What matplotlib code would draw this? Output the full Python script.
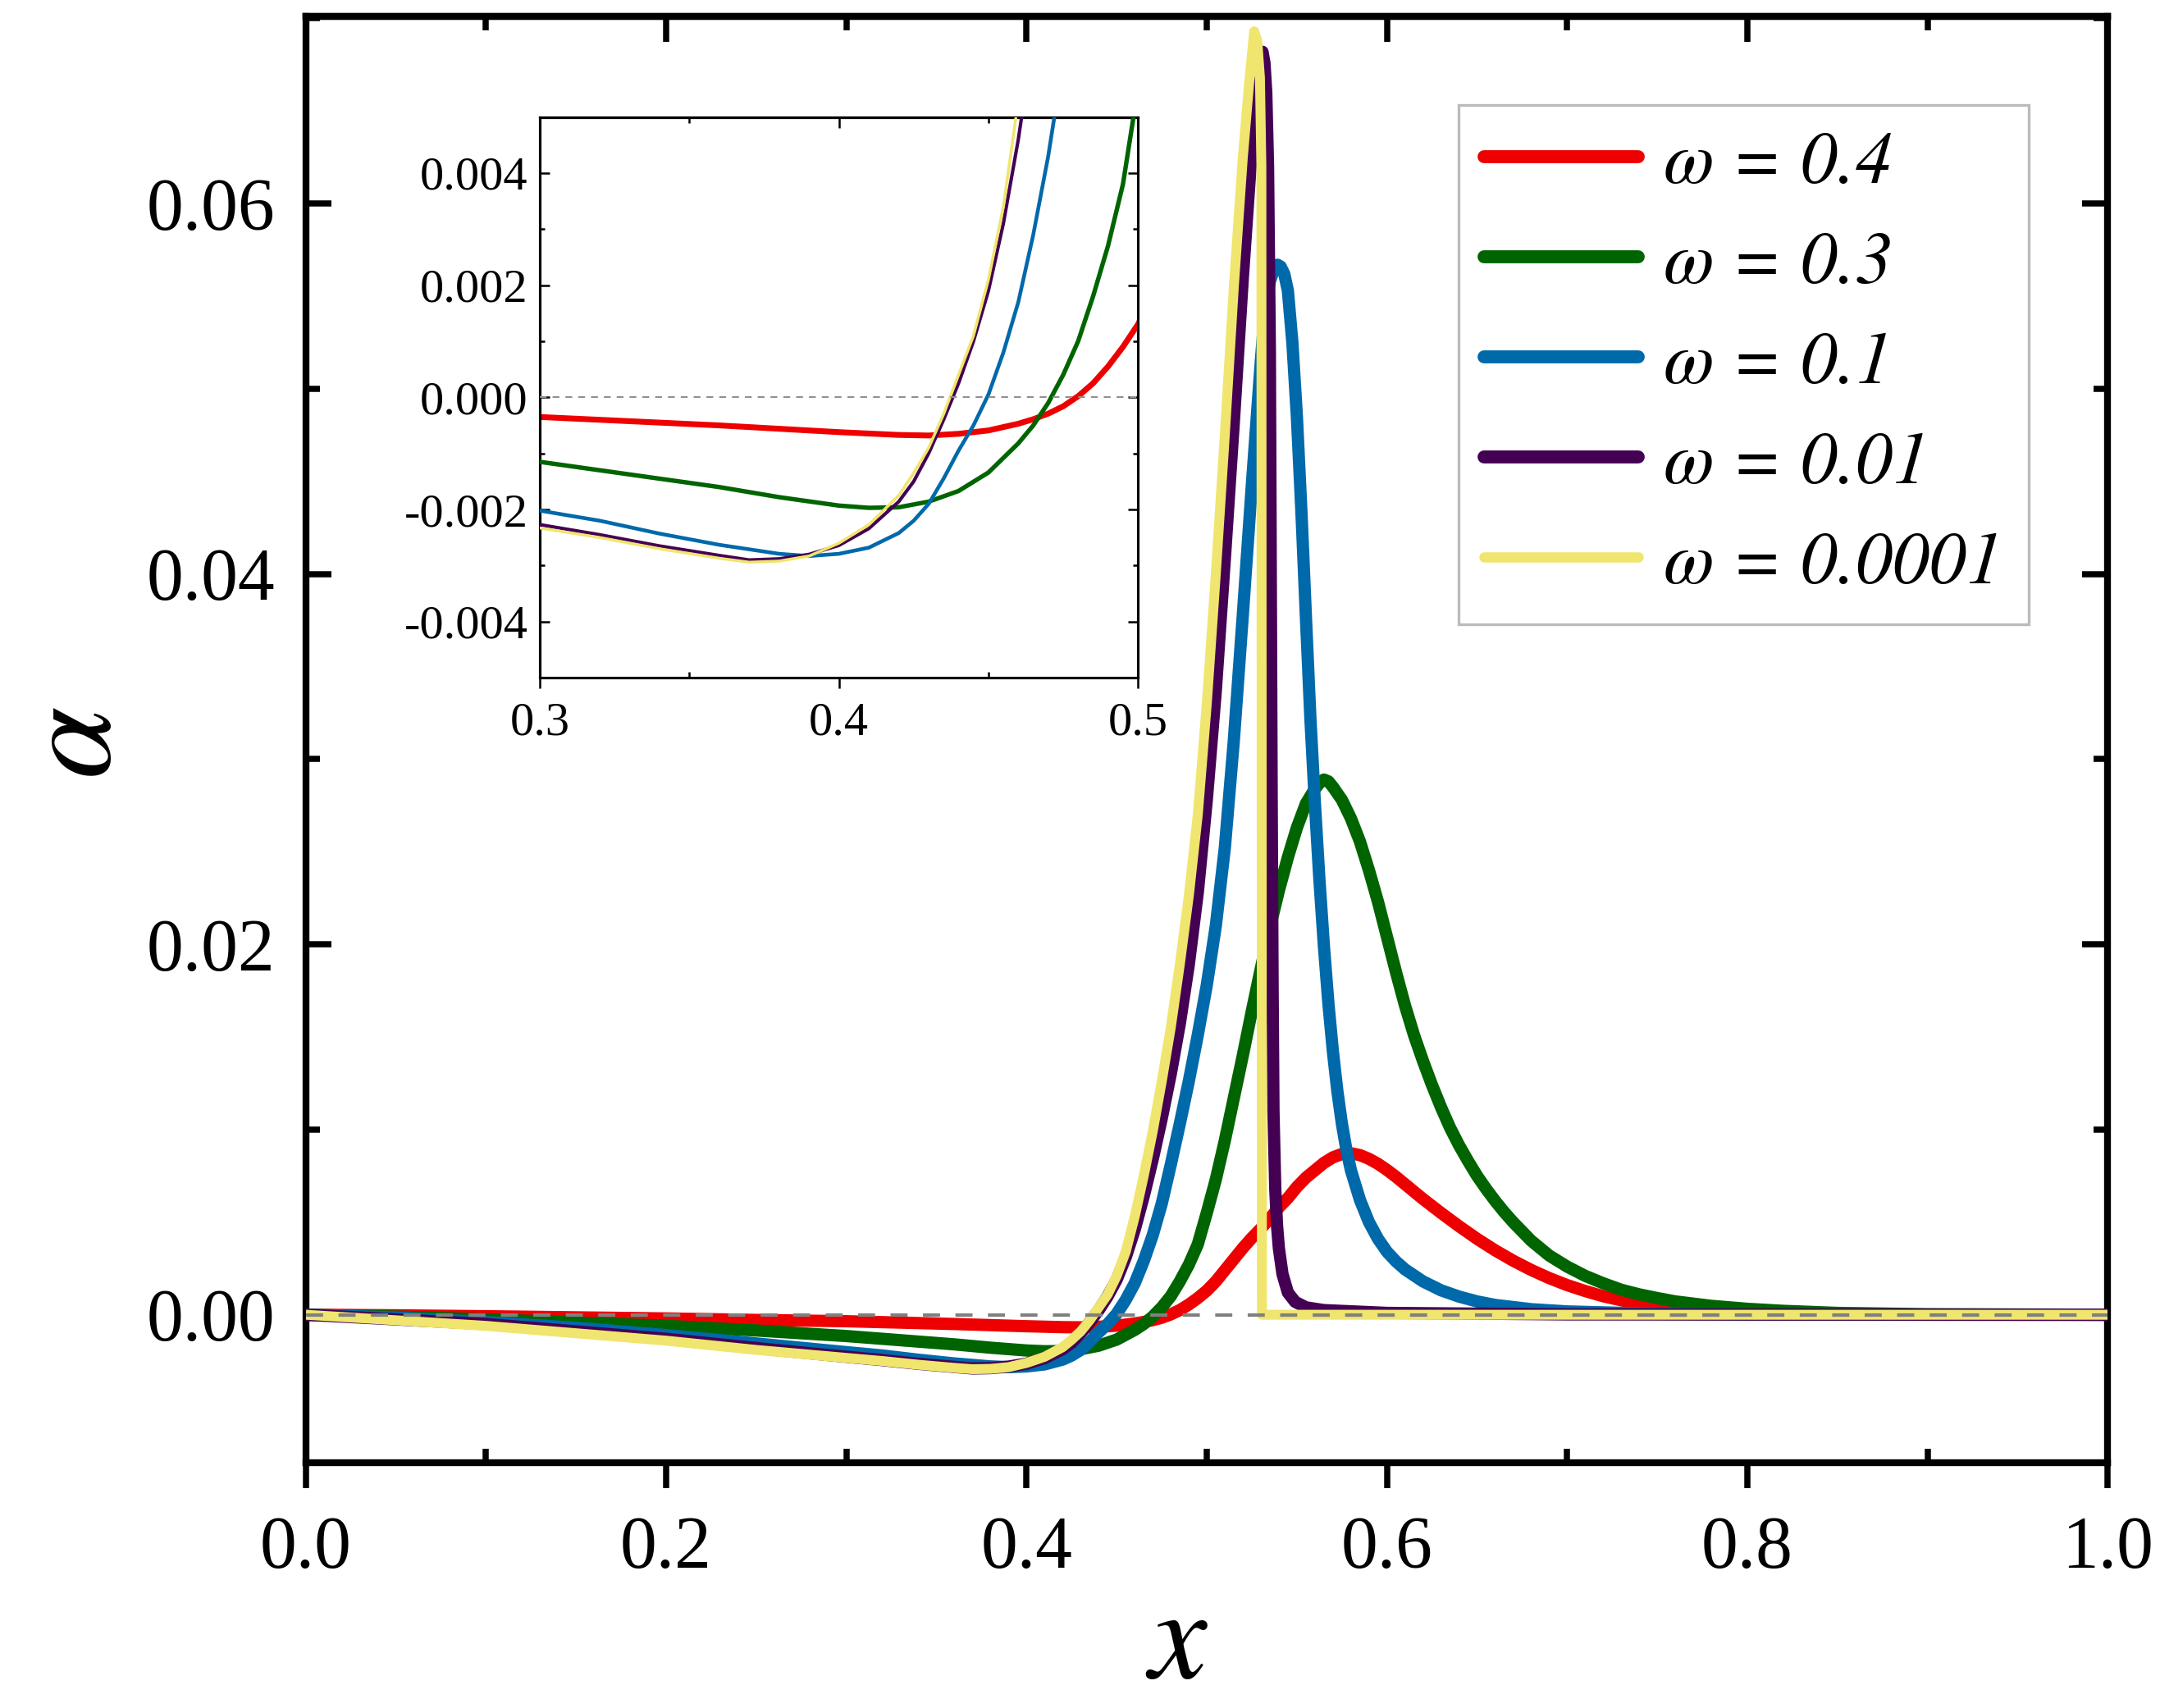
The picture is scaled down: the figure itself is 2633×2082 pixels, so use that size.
import matplotlib
matplotlib.use("Agg")
import matplotlib.pyplot as plt
from matplotlib.ticker import MultipleLocator, FixedLocator, FormatStrFormatter
from matplotlib.lines import Line2D

plt.rcParams['font.family'] = ['Liberation Serif', 'DejaVu Serif']
plt.rcParams['axes.unicode_minus'] = False

# ---------------- data ----------------
labels = ['ω = 0.4', 'ω = 0.3', 'ω = 0.1', 'ω = 0.01', 'ω = 0.0001']
colors = ['#EE0000', '#006400', '#0069AA', '#440154', '#F0E56E']

x_red = [0.00, 0.05, 0.10, 0.15, 0.20, 0.25, 0.30, 0.32, 0.34, 0.36, 0.38, 0.40, 0.42, 0.43,
         0.44, 0.45, 0.46, 0.465, 0.47, 0.475, 0.48, 0.485, 0.49, 0.495, 0.50, 0.505, 0.51,
         0.515, 0.52, 0.525, 0.53, 0.535, 0.54, 0.545, 0.55, 0.555, 0.56, 0.565, 0.57, 0.575,
         0.58, 0.585, 0.59, 0.595, 0.60, 0.605, 0.61, 0.615, 0.62, 0.63, 0.64, 0.65, 0.66, 0.67,
         0.68, 0.69, 0.70, 0.71, 0.72, 0.73, 0.74, 0.76, 0.78, 0.80, 0.85, 0.90, 1.00]
y_red = [0.0, -0.00003, -0.00008, -0.00014, -0.00020, -0.00028, -0.00035, -0.00040, -0.00045,
         -0.00050, -0.00056, -0.00062, -0.00067, -0.00068, -0.00065, -0.00059, -0.00047, -0.00039,
         -0.00029, -0.00016, 0.00002, 0.00025, 0.00055, 0.00090, 0.00130, 0.00180, 0.00240,
         0.00300, 0.00360, 0.00415, 0.00465, 0.00520, 0.00580, 0.00630, 0.00690, 0.00740, 0.00780,
         0.00820, 0.00850, 0.00868, 0.00872, 0.00862, 0.00842, 0.00815, 0.00782, 0.00745, 0.00705,
         0.00665, 0.00625, 0.00550, 0.00478, 0.00410, 0.00348, 0.00292, 0.00242, 0.00198, 0.00160,
         0.00128, 0.00100, 0.00078, 0.00060, 0.00036, 0.00021, 0.00011, 0.00003, 0.0, 0.0]

x_green = [0.00, 0.05, 0.10, 0.15, 0.20, 0.25, 0.30, 0.32, 0.34, 0.36, 0.38, 0.40, 0.41, 0.42,
           0.43, 0.44, 0.45, 0.46, 0.465, 0.47, 0.475, 0.48, 0.485, 0.49, 0.495, 0.50, 0.505,
           0.51, 0.515, 0.52, 0.525, 0.53, 0.535, 0.54, 0.545, 0.55, 0.555, 0.56, 0.5625, 0.565,
           0.5675, 0.57, 0.575, 0.58, 0.585, 0.59, 0.595, 0.60, 0.605, 0.61, 0.615, 0.62, 0.625,
           0.63, 0.635, 0.64, 0.645, 0.65, 0.655, 0.66, 0.665, 0.67, 0.675, 0.68, 0.69, 0.70,
           0.71, 0.72, 0.73, 0.74, 0.75, 0.76, 0.78, 0.80, 0.82, 0.85, 0.90, 1.00]
y_green = [0.0, -0.00010, -0.00025, -0.00042, -0.00060, -0.00085, -0.00115, -0.00130, -0.00145,
           -0.00160, -0.00178, -0.00193, -0.00197, -0.00196, -0.00186, -0.00167, -0.00134, -0.00082,
           -0.00050, -0.00010, 0.00040, 0.00100, 0.00180, 0.00270, 0.00380, 0.00550, 0.00730,
           0.00940, 0.01170, 0.01400, 0.01640, 0.01870, 0.02090, 0.02290, 0.02470, 0.02630, 0.02760,
           0.02840, 0.02870, 0.02890, 0.02880, 0.02850, 0.02780, 0.02680, 0.02555, 0.02400, 0.02230,
           0.02040, 0.01850, 0.01670, 0.01510, 0.01370, 0.01240, 0.01120, 0.01010, 0.00915, 0.00830,
           0.00750, 0.00680, 0.00615, 0.00555, 0.00500, 0.00450, 0.00400, 0.00320, 0.00260, 0.00210,
           0.00170, 0.00135, 0.00110, 0.00090, 0.00072, 0.00048, 0.00032, 0.00021, 0.00010, 0.00003,
           0.0]

x_blue = [0.00, 0.05, 0.10, 0.15, 0.20, 0.25, 0.30, 0.32, 0.34, 0.36, 0.38, 0.39, 0.40, 0.41,
          0.42, 0.425, 0.43, 0.435, 0.44, 0.445, 0.45, 0.455, 0.46, 0.465, 0.47, 0.475, 0.48,
          0.485, 0.49, 0.495, 0.50, 0.505, 0.51, 0.515, 0.52, 0.525, 0.53, 0.5325, 0.535, 0.5375,
          0.5392, 0.541, 0.543, 0.545, 0.5475, 0.55, 0.5525, 0.555, 0.5575, 0.56, 0.5625, 0.565,
          0.5675, 0.57, 0.5725, 0.575, 0.5775, 0.58, 0.585, 0.59, 0.595, 0.60, 0.605, 0.61, 0.62,
          0.63, 0.64, 0.65, 0.66, 0.68, 0.70, 0.75, 0.80, 1.00]
y_blue = [0.0, -0.00015, -0.00040, -0.00070, -0.00110, -0.00155, -0.00202, -0.00220, -0.00243,
          -0.00263, -0.00279, -0.00283, -0.00279, -0.00268, -0.00242, -0.00220, -0.00190, -0.00145,
          -0.00095, -0.00050, 0.00005, 0.00080, 0.00170, 0.00290, 0.00430, 0.00600, 0.00810,
          0.01030, 0.01260, 0.01510, 0.01780, 0.02100, 0.02520, 0.03100, 0.03780, 0.04480, 0.05150,
          0.05450, 0.05580, 0.05650, 0.05670, 0.05660, 0.05620, 0.05530, 0.05250, 0.04850, 0.04340,
          0.03770, 0.03220, 0.02760, 0.02350, 0.01990, 0.01680, 0.01420, 0.01205, 0.01030, 0.00890,
          0.00780, 0.00620, 0.00500, 0.00410, 0.00340, 0.00288, 0.00245, 0.00180, 0.00132, 0.00098,
          0.00072, 0.00053, 0.00030, 0.00018, 0.00005, 0.00001, 0.0]

x_purple = [0.00, 0.05, 0.10, 0.15, 0.20, 0.25, 0.30, 0.32, 0.34, 0.36, 0.37, 0.38, 0.39, 0.40,
            0.41, 0.42, 0.425, 0.43, 0.435, 0.44, 0.445, 0.45, 0.455, 0.46, 0.465, 0.47, 0.475,
            0.48, 0.485, 0.49, 0.495, 0.50, 0.505, 0.51, 0.515, 0.52, 0.525, 0.528, 0.5309,
            0.532, 0.533, 0.534, 0.535, 0.5355, 0.536, 0.5365, 0.537, 0.538, 0.539, 0.540, 0.542,
            0.545, 0.549, 0.555, 0.565, 0.60, 0.70, 1.00]
y_purple = [0.0, -0.00025, -0.00050, -0.00090, -0.00130, -0.00180, -0.00227, -0.00245, -0.00265,
            -0.00282, -0.00290, -0.00288, -0.00280, -0.00264, -0.00234, -0.00186, -0.00150, -0.00100,
            -0.00040, 0.00025, 0.00100, 0.00190, 0.00310, 0.00460, 0.00640, 0.00840, 0.01060,
            0.01300, 0.01570, 0.01890, 0.02280, 0.02780, 0.03370, 0.04080, 0.04820, 0.05600, 0.06300,
            0.06640, 0.06820, 0.06760, 0.06600, 0.06200, 0.05200, 0.04000, 0.02800, 0.01800, 0.01100,
            0.00680, 0.00480, 0.00360, 0.00220, 0.00120, 0.00070, 0.00040, 0.00025, 0.00010, 0.00002,
            0.0]

x_yellow = [0.00, 0.05, 0.10, 0.15, 0.20, 0.25, 0.30, 0.32, 0.34, 0.36, 0.37, 0.38, 0.39, 0.40,
            0.41, 0.42, 0.425, 0.43, 0.435, 0.44, 0.445, 0.45, 0.455, 0.46, 0.465, 0.47, 0.475,
            0.48, 0.485, 0.49, 0.495, 0.50, 0.505, 0.51, 0.515, 0.52, 0.5235, 0.5263, 0.528,
            0.5295, 0.5303, 0.5306, 0.535, 0.60, 0.80, 1.00]
y_yellow = [0.0, -0.00030, -0.00060, -0.00100, -0.00140, -0.00190, -0.00233, -0.00250, -0.00270,
            -0.00287, -0.00294, -0.00292, -0.00283, -0.00260, -0.00227, -0.00175, -0.00135, -0.00090,
            -0.00030, 0.00040, 0.00110, 0.00210, 0.00340, 0.00530, 0.00750, 0.00990, 0.01260,
            0.01550, 0.01890, 0.02260, 0.02700, 0.03300, 0.04000, 0.04750, 0.05550, 0.06250, 0.06650,
            0.06930, 0.06880, 0.06680, 0.06200, 0.0, 0.0, 0.0, 0.0, 0.0]

series_x = [x_red, x_green, x_blue, x_purple, x_yellow]
series_y = [y_red, y_green, y_blue, y_purple, y_yellow]

main_lw = [3.6, 3.6, 3.6, 3.6, 2.9]
inset_lw = [1.7, 1.3, 1.1, 1.0, 0.85]

x_major = [0.0, 0.2, 0.4, 0.6, 0.8, 1.0]
y_major = [0.00, 0.02, 0.04, 0.06]
inset_x_major = [0.3, 0.4, 0.5]
inset_y_major = [-0.004, -0.002, 0.000, 0.002, 0.004]

ITALIC = ['STIXGeneral', 'DejaVu Serif']

# ---------------- figure ----------------
W, H, DPI = 2633, 2082, 300
fig = plt.figure(figsize=(W / DPI, H / DPI), dpi=DPI)

ax = fig.add_axes([0.1416, 0.1435, 0.8342, 0.8468])
for i in range(5):
    ax.plot(series_x[i], series_y[i], color=colors[i], lw=main_lw[i], zorder=2 + i,
            solid_joinstyle='round', solid_capstyle='butt')
ax.axhline(0.0, color='#808080', lw=1.0, dashes=(5, 4.5), zorder=10)

ax.set_xlim(0, 1)
ax.set_ylim(-0.008, 0.0701)

ax.xaxis.set_major_locator(FixedLocator(x_major))
ax.xaxis.set_minor_locator(MultipleLocator(0.1))
ax.yaxis.set_major_locator(FixedLocator(y_major))
ax.yaxis.set_minor_locator(MultipleLocator(0.01))
ax.xaxis.set_major_formatter(FormatStrFormatter('%.1f'))
ax.yaxis.set_major_formatter(FormatStrFormatter('%.2f'))

spine_w = 2.0
tick_w = 1.8
for s in ax.spines.values():
    s.set_linewidth(spine_w)

ax.tick_params(axis='x', which='major', direction='out', length=7.5, width=tick_w,
               labelsize=21.5, pad=8, bottom=True, top=False)
ax.tick_params(axis='x', which='minor', direction='in', length=4, width=tick_w,
               bottom=True, top=False)
ax.tick_params(axis='y', which='major', direction='in', length=7.5, width=tick_w,
               labelsize=21.5, pad=9, left=True, right=True)
ax.tick_params(axis='y', which='minor', direction='in', length=4, width=tick_w,
               left=True, right=True)

sec = ax.secondary_xaxis('top')
sec.xaxis.set_major_locator(FixedLocator(x_major))
sec.xaxis.set_minor_locator(MultipleLocator(0.1))
sec.tick_params(axis='x', which='major', direction='in', length=7.5, width=tick_w, labeltop=False)
sec.tick_params(axis='x', which='minor', direction='in', length=4, width=tick_w)
sec.spines['top'].set_linewidth(spine_w)

ax.set_xlabel('x', fontsize=38, fontstyle='italic', family=ITALIC, va='center')
ax.xaxis.set_label_coords(0.484, -0.127)
ax.set_ylabel('α', fontsize=38, fontstyle='italic', family=ITALIC, va='center', ha='center')
ax.yaxis.set_label_coords(-0.128, 0.50)

handles = [Line2D([0], [0], color=colors[i], lw=(3.8 if i < 4 else 3.0), solid_capstyle='round')
           for i in range(5)]
leg = ax.legend(handles, labels, loc='upper right', bbox_to_anchor=(0.9563, 0.9386),
                borderaxespad=0.0, frameon=True, fancybox=False, framealpha=1,
                prop={'family': ITALIC, 'style': 'italic', 'size': 21.5},
                handlelength=2.1, handletextpad=0.35, labelspacing=0.45, borderpad=0.35)
leg.get_frame().set_edgecolor('#BBBBBB')
leg.get_frame().set_linewidth(0.8)
leg.set_zorder(20)

# ---------------- inset ----------------
ins = fig.add_axes([0.2500, 0.6032, 0.2768, 0.3283])
for i in range(5):
    ins.plot(series_x[i], series_y[i], color=colors[i], lw=inset_lw[i], zorder=2 + i,
             solid_joinstyle='round')
ins.axhline(0.0, color='#909090', lw=0.5, dashes=(4, 3.5), zorder=10)
ins.set_xlim(0.3, 0.5)
ins.set_ylim(-0.005, 0.005)
ins.xaxis.set_major_locator(FixedLocator(inset_x_major))
ins.xaxis.set_minor_locator(MultipleLocator(0.05))
ins.yaxis.set_major_locator(FixedLocator(inset_y_major))
ins.yaxis.set_minor_locator(MultipleLocator(0.001))
ins.xaxis.set_major_formatter(FormatStrFormatter('%.1f'))
ins.yaxis.set_major_formatter(FormatStrFormatter('%.3f'))
for s in ins.spines.values():
    s.set_linewidth(0.75)
ins.tick_params(axis='x', which='major', direction='out', length=3.0, width=0.6,
                labelsize=14, pad=4, bottom=True, top=False)
ins.tick_params(axis='x', which='minor', direction='in', length=1.6, width=0.6,
                bottom=True, top=False)
ins.tick_params(axis='y', which='major', direction='in', length=2.8, width=0.6,
                labelsize=14, pad=3.5, left=True, right=True)
ins.tick_params(axis='y', which='minor', direction='in', length=1.4, width=0.6,
                left=True, right=True)
isec = ins.secondary_xaxis('top')
isec.xaxis.set_major_locator(FixedLocator(inset_x_major))
isec.xaxis.set_minor_locator(MultipleLocator(0.05))
isec.tick_params(axis='x', which='major', direction='in', length=3.0, width=0.6, labeltop=False)
isec.tick_params(axis='x', which='minor', direction='in', length=1.6, width=0.6)
isec.spines['top'].set_linewidth(0.75)

fig.savefig('out.png', dpi=DPI)
